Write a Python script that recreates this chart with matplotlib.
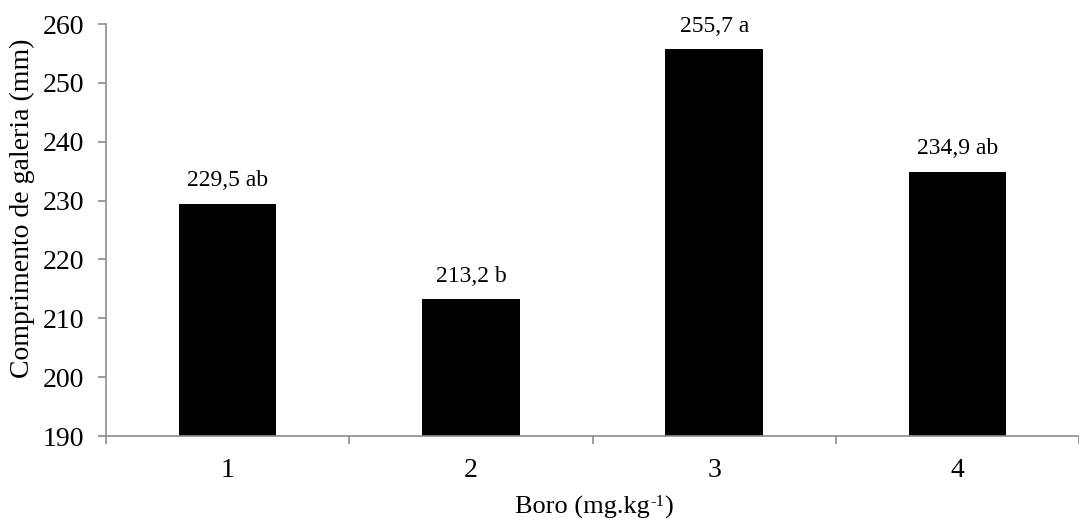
import matplotlib.pyplot as plt
import numpy as np

plt.rcParams['font.family'] = ['Liberation Serif', 'DejaVu Serif']

# dados
doses = ['1', '2', '3', '4']
comprimento = [229.5, 213.2, 255.7, 234.9]
rotulos = ['229,5 ab', '213,2 b', '255,7 a', '234,9 ab']

W, H = 1079, 522
fig = plt.figure(figsize=(W / 100, H / 100), dpi=100)
ax = fig.add_axes([106 / W, 1 - 436 / H, 1 - 106 / W, (436 - 24) / H])

x = np.arange(1, len(doses) + 1)
base = 190
ax.bar(x, np.array(comprimento) - base, bottom=base, width=0.4, color='black')

for xi, v, lab in zip(x, comprimento, rotulos):
    ax.annotate(lab, xy=(xi, v), xytext=(0, 9), textcoords='offset points',
                ha='center', va='bottom', fontsize=17)

ax.set_xlim(0.5, 4.5)
ax.set_ylim(190, 260)
ax.set_yticks(np.arange(190, 261, 10))
ax.set_xticks(x)
ax.set_xticklabels(doses)
ax.set_xticks(np.arange(0.5, 4.6, 1), minor=True)

ax.tick_params(axis='x', which='major', length=0, pad=16, labelsize=20)
ax.tick_params(axis='x', which='minor', length=6, color='#8c8c8c', width=1.2)
ax.tick_params(axis='y', length=6, color='#8c8c8c', width=1.2, pad=10, labelsize=20)

for s in ['top', 'right']:
    ax.spines[s].set_visible(False)
for s in ['left', 'bottom']:
    ax.spines[s].set_color('#8c8c8c')
    ax.spines[s].set_linewidth(1.2)

# titulo do eixo y
fig.text(22 / W, 1 - 208 / H, 'Comprimento de galeria (mm)', rotation=90,
         ha='center', va='center', fontsize=20)

# titulo do eixo x com expoente "-1"
fig.canvas.draw()
r = fig.canvas.get_renderer()
yb = 1 - 514 / H
t1 = fig.text(0, yb, 'Boro (mg.kg', fontsize=19, va='baseline')
t2 = fig.text(0, yb + 8 / H, '-1', fontsize=12, va='baseline')
t3 = fig.text(0, yb, ')', fontsize=19, va='baseline')
w1 = t1.get_window_extent(r).width
w2 = t2.get_window_extent(r).width
w3 = t3.get_window_extent(r).width
x0 = (594 - (w1 + w2 + w3) / 2) / W
t1.set_x(x0)
t2.set_x(x0 + w1 / W)
t3.set_x(x0 + (w1 + w2) / W)

plt.savefig('out.png', dpi=100, facecolor='white')
plt.close()
